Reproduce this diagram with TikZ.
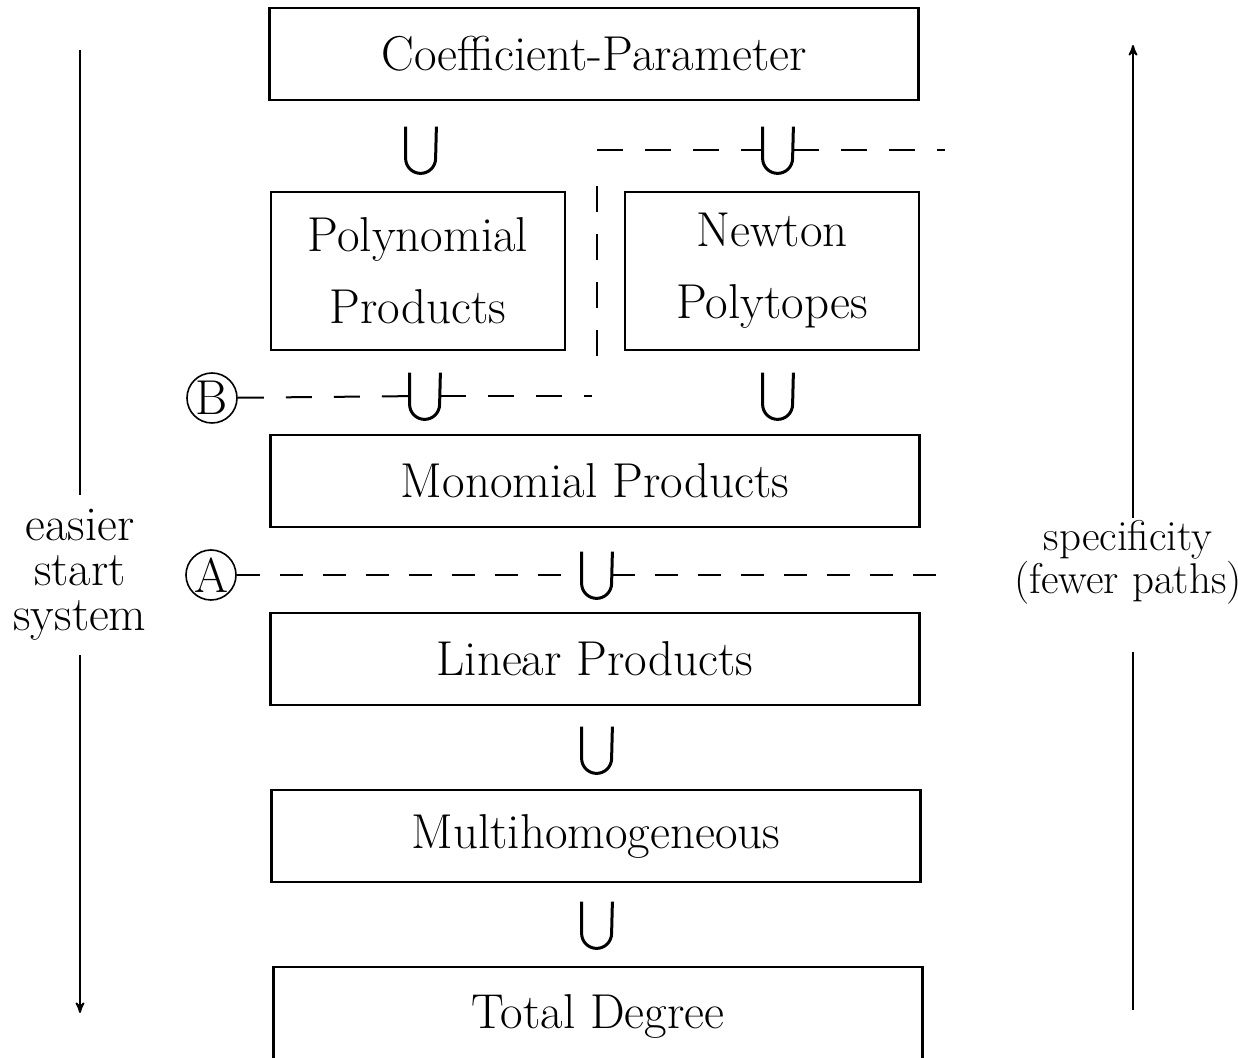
\documentclass[tikz,border=0pt]{standalone}
\usetikzlibrary{arrows}
\usetikzlibrary{positioning}

\newcommand{\boxfont}{\fontsize{24.5}{36}\selectfont}
\newcommand{\leftfont}{\fontsize{24.3}{22.5}\selectfont}
\newcommand{\rightfont}{\fontsize{21.5}{21.5}\selectfont}

\begin{document}
\begin{tikzpicture}[x=0.5pt,y=-0.5pt,
    box/.style={draw,line width=1.2pt,font=\boxfont,inner sep=0pt,align=center},
    wide/.style={box,minimum width=324.5pt,minimum height=46pt},
    half/.style={box,minimum width=147pt,minimum height=79pt},
    cupsign/.style={minimum width=15pt,minimum height=23pt,inner sep=0pt},
    cupline/.style={line width=1.5pt},
    tag/.style={draw,circle,line width=0.8pt,minimum size=25pt,inner sep=0pt,font=\boxfont},
    link/.style={line width=1pt,dash pattern=on 13pt off 11pt},
    shortlink/.style={line width=1pt,dash pattern=on 11.5pt off 10pt},
    side/.style={align=center,inner sep=0pt},
    axis/.style={line width=0.9pt,>=stealth'}]
    \useasboundingbox (0,0) rectangle (1238,1058);
    % the ladder of start systems
    \node[wide] (coef) at (594,54) {Coefficient-Parameter};
    \node[half] (poly) at (418,271) {Polynomial\\Products};
    \node[half] (newton) at (772,271) {Newton\\Polytopes};
    \node[wide] (mono) at (595,481) {Monomial Products};
    \node[wide] (linear) at (595,659) {Linear Products};
    \node[wide] (multi) at (596,836) {Multihomogeneous};
    \node[wide,minimum height=49pt] (total) at (598,1016) {Total Degree};
    % inclusion signs
    \node[cupsign] (cPoly) at (421,150) {};
    \node[cupsign] (cNewton) at (778,150) {};
    \node[cupsign] (cMono) at (425,396) {};
    \node[cupsign] (cNewtonLow) at (778,396) {};
    \node[cupsign] (cLinear) at (597,575) {};
    \node[cupsign] (cMulti) at (597,750) {};
    \node[cupsign] (cTotal) at (597,925) {};
    \foreach \c in {cPoly,cNewton,cMono,cNewtonLow,cLinear,cMulti,cTotal}
      \draw[cupline] (\c.north west) -- ([yshift=7.5pt]\c.south west)
        arc[start angle=180,end angle=360,radius=7.5pt] -- (\c.north east);
    % cut lines A and B
    \node[tag] (B) at (212,398) {B};
    \node[tag] (A) at (211,575) {A};
    \coordinate (topL) at (597,150);
    \coordinate (topR) at (945,150);
    \coordinate (vTop) at (597,186);
    \coordinate (vBot) at (597,370);
    \coordinate (bR) at (592,396);
    \coordinate (aR) at (945,575);
    \draw[link] (topL) -- (cNewton);
    \draw[link] (cNewton) -- (topR);
    \draw[link] (vTop) -- (vBot);
    \draw[link] (B) -- (cMono);
    \draw[link] (cMono) -- (bR);
    \draw[shortlink] (A) -- (cLinear);
    \draw[shortlink] (cLinear) -- (aR);
    % side arrows
    \node[side,font=\leftfont,inner ysep=7pt] (easier) at (80,575) {easier\\start\\system};
    \node[side,font=\rightfont] (spec) at (1128,562) {specificity\\(fewer paths)};
    \coordinate (lTop) at (80,50);
    \coordinate (lBot) at (80,1013);
    \coordinate (rTop) at (1133,45);
    \coordinate (rBot) at (1133,1010);
    \draw[axis] (lTop) -- (easier);
    \draw[axis,->] (easier) -- (lBot);
    \draw[axis] (rBot) -- ([yshift=-24pt]spec.south -| rBot);
    \draw[axis,->] ([yshift=1pt]spec.north -| rBot) -- (rTop);
\end{tikzpicture}
\end{document}
